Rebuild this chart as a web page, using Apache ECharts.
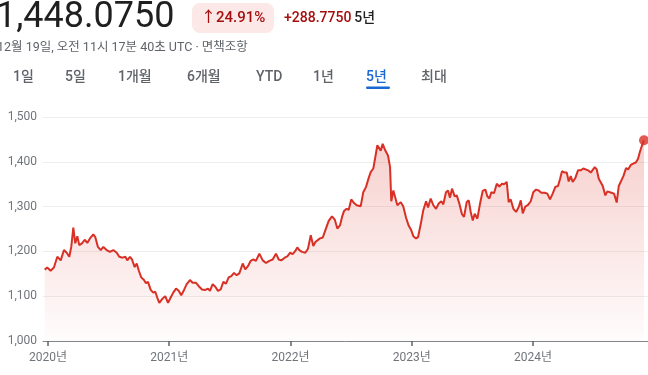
<!DOCTYPE html>
<html><head><meta charset="utf-8">
<script src="https://cdn.jsdelivr.net/npm/echarts@6/dist/echarts.min.js"></script>
<style>html,body{margin:0;padding:0;background:#fff}#c{width:648px;height:375px}</style>
</head><body><div id="c"></div>
<script>
// time as decimal year, value = KRW per USD
const p2020 = [[2019.973,1159.3],[2019.994,1164],[2020.022,1157],[2020.049,1164],[2020.077,1188],[2020.105,1180],[2020.132,1203],[2020.154,1197],[2020.176,1188],[2020.192,1210],[2020.209,1253],[2020.225,1218],[2020.242,1234],[2020.258,1214],[2020.280,1218],[2020.303,1226],[2020.324,1219],[2020.346,1229],[2020.374,1238],[2020.390,1232],[2020.412,1210],[2020.435,1203],[2020.456,1210],[2020.484,1203],[2020.511,1199],[2020.539,1203],[2020.567,1197],[2020.588,1188],[2020.616,1186],[2020.638,1188],[2020.654,1180],[2020.676,1188],[2020.693,1182],[2020.715,1165],[2020.732,1173],[2020.748,1158],[2020.769,1142],[2020.792,1136],[2020.808,1129],[2020.825,1132],[2020.847,1114],[2020.868,1108],[2020.885,1110],[2020.901,1097],[2020.918,1085],[2020.946,1095],[2020.967,1100],[2020.990,1085]];
const p2021 = [[2021.012,1097],[2021.033,1108],[2021.056,1117],[2021.078,1112],[2021.099,1102],[2021.122,1114],[2021.144,1127],[2021.171,1136],[2021.193,1130],[2021.221,1130],[2021.248,1121],[2021.270,1115],[2021.297,1114],[2021.320,1117],[2021.336,1112],[2021.358,1127],[2021.380,1121],[2021.402,1112],[2021.424,1115],[2021.446,1132],[2021.468,1128],[2021.490,1142],[2021.512,1145],[2021.534,1152],[2021.556,1147],[2021.578,1151],[2021.606,1173],[2021.627,1160],[2021.649,1167],[2021.672,1179],[2021.693,1182],[2021.715,1179],[2021.743,1195],[2021.771,1180],[2021.798,1174],[2021.825,1179],[2021.853,1182],[2021.880,1195],[2021.903,1182],[2021.924,1180],[2021.952,1186],[2021.974,1189],[2021.996,1197]];
const p2022 = [[2022.018,1194],[2022.040,1201],[2022.056,1209],[2022.073,1203],[2022.095,1199],[2022.122,1197],[2022.144,1206],[2022.167,1236],[2022.188,1212],[2022.205,1221],[2022.221,1218],[2022.243,1229],[2022.266,1231],[2022.287,1247],[2022.315,1268],[2022.342,1278],[2022.365,1271],[2022.386,1251],[2022.408,1258],[2022.425,1277],[2022.441,1290],[2022.463,1295],[2022.480,1293],[2022.501,1316],[2022.524,1308],[2022.546,1303],[2022.579,1301],[2022.600,1332],[2022.623,1344],[2022.639,1359],[2022.661,1377],[2022.683,1385],[2022.699,1410],[2022.716,1437],[2022.732,1439],[2022.744,1425],[2022.760,1440],[2022.782,1425],[2022.804,1414],[2022.821,1388],[2022.831,1312],[2022.848,1336],[2022.864,1336],[2022.881,1303],[2022.909,1310],[2022.930,1300],[2022.953,1275],[2022.975,1257],[2022.996,1247]];
const p2023 = [[2023.013,1234],[2023.035,1229],[2023.052,1232],[2023.074,1261],[2023.095,1292],[2023.118,1312],[2023.134,1298],[2023.156,1318],[2023.178,1303],[2023.200,1295],[2023.222,1307],[2023.244,1312],[2023.260,1305],[2023.282,1332],[2023.299,1336],[2023.315,1320],[2023.332,1340],[2023.354,1323],[2023.371,1325],[2023.392,1307],[2023.414,1283],[2023.431,1277],[2023.453,1310],[2023.470,1314],[2023.486,1288],[2023.503,1269],[2023.519,1284],[2023.541,1273],[2023.563,1307],[2023.585,1335],[2023.607,1338],[2023.623,1323],[2023.640,1318],[2023.656,1332],[2023.678,1330],[2023.701,1351],[2023.722,1345],[2023.744,1351],[2023.761,1350],[2023.783,1355],[2023.799,1310],[2023.816,1316],[2023.838,1295],[2023.860,1288],[2023.882,1299],[2023.899,1314],[2023.915,1285],[2023.936,1300],[2023.959,1304],[2023.981,1312]];
const p2024 = [[2024.002,1332],[2024.025,1338],[2024.047,1336],[2024.068,1331],[2024.096,1331],[2024.118,1329],[2024.140,1316],[2024.162,1329],[2024.184,1344],[2024.206,1346],[2024.223,1362],[2024.239,1379],[2024.261,1376],[2024.278,1376],[2024.294,1356],[2024.311,1368],[2024.327,1355],[2024.349,1364],[2024.371,1381],[2024.393,1381],[2024.415,1385],[2024.431,1388],[2024.454,1381],[2024.476,1376],[2024.492,1379],[2024.509,1388],[2024.525,1383],[2024.542,1362],[2024.558,1362],[2024.575,1346],[2024.596,1325],[2024.613,1334],[2024.629,1336],[2024.646,1331],[2024.668,1329],[2024.690,1309],[2024.707,1346],[2024.723,1349],[2024.745,1368],[2024.767,1386],[2024.784,1383],[2024.806,1393],[2024.827,1396],[2024.849,1399],[2024.866,1407],[2024.882,1423],[2024.899,1437],[2024.915,1448.075]];
const yearTicks = [2020, 2021, 2022, 2023, 2024];
const tabs = ['1일','5일','1개월','6개월','YTD','1년','5년','최대'];
const activeTab = '5년';
const dateText = '12월 19일, 오전 11시 17분 40초 UTC · 면책조항';
const periodText = '5년';

// layout
const tabX = [13, 65, 118, 187, 256, 313, 366, 421];
const FONT = 'Roboto, "Noto Sans CJK KR", sans-serif';
const RED = '#d93025';

const points = [].concat(p2020, p2021, p2022, p2023, p2024);
const firstV = points[0][1];
const lastP = points[points.length - 1];
const change = lastP[1] - firstV;
const pct = change / firstV * 100;
const fmt = (v, d) => v.toLocaleString('en-US', {minimumFractionDigits: d, maximumFractionDigits: d});

const graphic = [
  {type:'text', x:-4, y:18, style:{text: fmt(lastP[1],4), fontSize:36, fontFamily:FONT, fill:'#1f1f1f', textVerticalAlign:'middle'}},
  {type:'rect', shape:{x:192, y:3, width:82, height:30, r:8}, style:{fill:'#fce8e6'}},
  {type:'text', x:201, y:18.5, style:{text:'↑' + pct.toFixed(2) + '%', fontSize:15, fontWeight:500, fontFamily:FONT, fill:'#a50e0e', textVerticalAlign:'middle'}},
  {type:'text', x:284, y:18.5, style:{text:'{a|+' + fmt(change,4) + '} {b|' + periodText + '}', fontFamily:FONT, textVerticalAlign:'middle',
     rich:{a:{fontSize:14, fontWeight:500, fontFamily:FONT, fill:'#a50e0e'}, b:{fontSize:14, fontWeight:500, fontFamily:FONT, fill:'#1f1f1f'}}}},
  {type:'text', x:-3, y:48, style:{text:dateText, fontSize:12.5, fontFamily:FONT, fill:'#5f6368', textVerticalAlign:'middle'}}
];
tabs.forEach((t, i) => {
  const act = t === activeTab;
  graphic.push({type:'text', x:tabX[i], y:77, style:{text:t, fontSize:14, fontWeight:500, fontFamily:FONT, fill: act ? '#1967d2' : '#5f6368', textVerticalAlign:'middle'}});
  if (act) graphic.push({type:'rect', shape:{x:tabX[i], y:86.5, width:24, height:2.5, r:1.2}, style:{fill:'#1967d2'}});
});

const chart = echarts.init(document.getElementById('c'), null, {renderer:'canvas'});
chart.setOption({
  animation:false,
  grid:{left:43, right:0, top:117, bottom:34},
  xAxis:{type:'value', min:2019.959, max:2024.948,
    axisLine:{onZero:false, lineStyle:{color:'#80868b', width:1}},
    axisTick:{show:true, customValues:yearTicks, length:5, lineStyle:{color:'#5f6368', width:1.5}},
    axisLabel:{customValues:yearTicks, formatter:v => v + '년', color:'#70757a', fontSize:12, margin:11, fontFamily:FONT},
    splitLine:{show:false}},
  yAxis:{type:'value', min:1000, max:1500, interval:100,
    axisLabel:{formatter:v => v.toLocaleString('en-US'), color:'#70757a', fontSize:12, margin:6, fontFamily:FONT},
    axisLine:{show:false}, axisTick:{show:false},
    splitLine:{lineStyle:{color:'#eeeeee', width:1}}},
  series:[
    {type:'line', data:points, symbol:'none', showSymbol:false, z:2,
     lineStyle:{color:RED, width:2},
     areaStyle:{color:new echarts.graphic.LinearGradient(0,0,0,1,[{offset:0,color:'rgba(217,48,37,0.32)'},{offset:1,color:'rgba(217,48,37,0.02)'}])}},
    {type:'scatter', data:[lastP], symbolSize:10, z:3, itemStyle:{color:RED}}
  ],
  graphic: graphic
});
</script></body></html>
